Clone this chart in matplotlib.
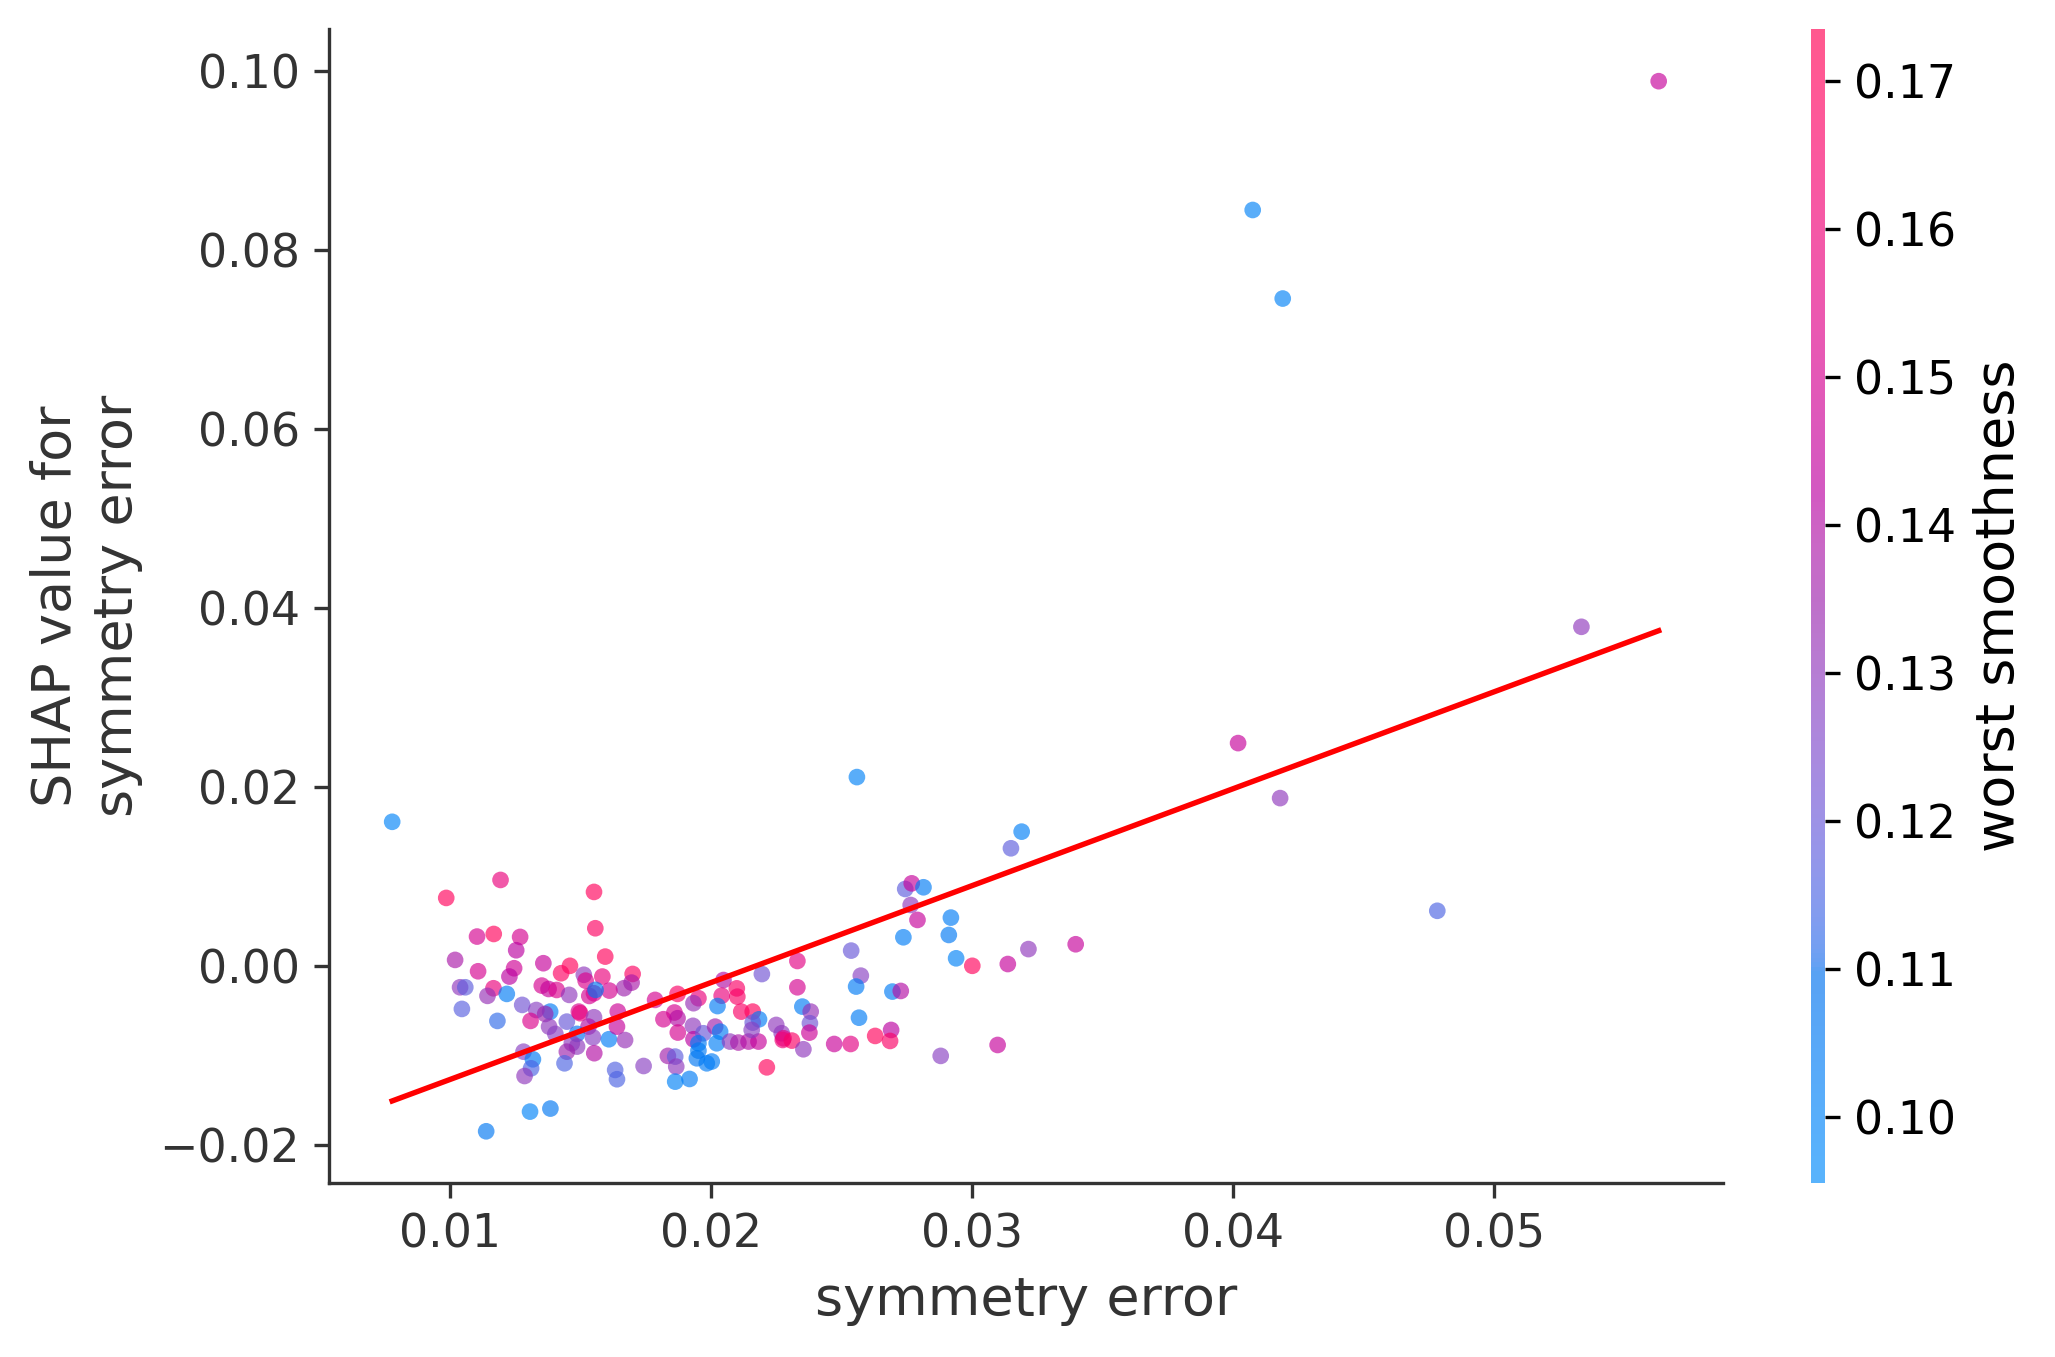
import numpy as np
import matplotlib
matplotlib.use("Agg")
import matplotlib.pyplot as plt
from matplotlib.colors import ListedColormap, Normalize
from matplotlib.cm import ScalarMappable

# symmetry error (x), SHAP value (y), worst smoothness (colour)
sym_error = [
    0.0078, 0.00987, 0.01195, 0.01553, 0.01558, 0.01105, 0.01169, 0.0127, 0.01255, 0.01021,
    0.01596, 0.01109, 0.01247, 0.01229, 0.01359, 0.01427, 0.01461, 0.01514, 0.01521, 0.01585,
    0.01701, 0.01697, 0.01668, 0.01612, 0.0104, 0.0106, 0.01047, 0.01168, 0.01145, 0.01219,
    0.01183, 0.01353, 0.01379, 0.0141, 0.01385, 0.01458, 0.01278, 0.01332, 0.01366, 0.0131,
    0.01381, 0.01405, 0.01449, 0.01495, 0.0150, 0.01553, 0.01535, 0.01559, 0.01553, 0.01532,
    0.01549, 0.01488, 0.01468, 0.01488, 0.01449, 0.0144, 0.01554, 0.0161, 0.01644, 0.01641,
    0.01672, 0.01283, 0.01319, 0.01312, 0.01287, 0.01634, 0.01641, 0.01743, 0.01308, 0.01386,
    0.0114, 0.01787, 0.01873, 0.01953, 0.01934, 0.01819, 0.01861, 0.01873, 0.01874, 0.01932,
    0.01934, 0.01972, 0.01953, 0.01953, 0.01947, 0.01985, 0.01836, 0.01864, 0.01868, 0.01864,
    0.01919,
    0.02049, 0.02100, 0.02102, 0.02042, 0.02026, 0.02117, 0.02161, 0.02185, 0.02161, 0.02251,
    0.02017, 0.02036, 0.02023, 0.02004, 0.02074, 0.02106, 0.02145, 0.02183, 0.02157, 0.02272,
    0.02279, 0.02276, 0.02311, 0.02215, 0.02196, 0.02332, 0.02332, 0.02351, 0.02383, 0.0238,
    0.02378, 0.02355, 0.02473, 0.02536, 0.0263, 0.02691, 0.02687, 0.02538, 0.02575, 0.02557,
    0.02568, 0.02696, 0.02728, 0.02738, 0.02745, 0.0277, 0.02815, 0.02766, 0.02792, 0.0292,
    0.02912, 0.0294, 0.03002, 0.03138, 0.03217, 0.0315, 0.03191, 0.02881, 0.03099, 0.03398,
    0.05631, 0.04076, 0.04191, 0.05335, 0.0402, 0.04181, 0.04783, 0.0256,
]
shap_vals = [
    0.0161, 0.00759, 0.0096, 0.00826, 0.0042, 0.00327, 0.00356, 0.00323, 0.00174, 0.00066,
    0.00103, -0.00061, -0.00027, -0.0012, 0.00029, -0.00083, 0.0, -0.001, -0.00166, -0.0012,
    -0.00091, -0.00188, -0.0025, -0.00277, -0.0024, -0.0024, -0.00482, -0.00251, -0.00336, -0.00314,
    -0.00616, -0.00221, -0.00259, -0.0027, -0.00512, -0.00325, -0.00437, -0.00494, -0.00538, -0.00616,
    -0.0068, -0.00761, -0.00624, -0.00512, -0.0053, -0.00307, -0.00337, -0.00269, -0.00575, -0.0068,
    -0.008, -0.00761, -0.00866, -0.00903, -0.0096, -0.0109, -0.00977, -0.00821, -0.00512, -0.0068,
    -0.0083, -0.0096, -0.01045, -0.01146, -0.01232, -0.01164, -0.01268, -0.0112, -0.0163, -0.01596,
    -0.0185, -0.00381, -0.00314, -0.00362, -0.00418, -0.00597, -0.00522, -0.00586, -0.00746, -0.00671,
    -0.00821, -0.00754, -0.00866, -0.00948, -0.01034, -0.0109, -0.01007, -0.01015, -0.01127, -0.01295,
    -0.01265,
    -0.00159, -0.00252, -0.00345, -0.00334, -0.0045, -0.00512, -0.00512, -0.00598, -0.00635, -0.00661,
    -0.0068, -0.00736, -0.00866, -0.0107, -0.00847, -0.00858, -0.00847, -0.00847, -0.00717, -0.00754,
    -0.0081, -0.00829, -0.00836, -0.01135, -0.00092, 0.00054, -0.0024, -0.00456, -0.00512, -0.00642,
    -0.00747, -0.00933, -0.00874, -0.00874, -0.00784, -0.00717, -0.0084, 0.0017, -0.0011, -0.00232,
    -0.0058, -0.00288, -0.00281, 0.00319, 0.00859, 0.00922, 0.00878, 0.0068, 0.00513, 0.00539,
    0.00345, 0.00084, 0.0, 0.0002, 0.00187, 0.01314, 0.0150, -0.01007, -0.00885, 0.00241,
    0.0989, 0.0845, 0.0746, 0.0379, 0.0249, 0.01875, 0.00615, 0.0211,
]
worst_smooth = [
    0.100, 0.170, 0.158, 0.170, 0.168, 0.150, 0.170, 0.150, 0.142, 0.138,
    0.170, 0.150, 0.148, 0.142, 0.145, 0.168, 0.170, 0.130, 0.152, 0.158,
    0.168, 0.138, 0.135, 0.150, 0.130, 0.118, 0.117, 0.158, 0.132, 0.104,
    0.112, 0.150, 0.145, 0.152, 0.104, 0.130, 0.122, 0.128, 0.135, 0.152,
    0.130, 0.128, 0.120, 0.150, 0.158, 0.152, 0.150, 0.106, 0.130, 0.140,
    0.128, 0.110, 0.130, 0.130, 0.135, 0.115, 0.140, 0.103, 0.147, 0.145,
    0.132, 0.128, 0.105, 0.115, 0.130, 0.116, 0.115, 0.128, 0.100, 0.106,
    0.106, 0.150, 0.166, 0.158, 0.132, 0.150, 0.150, 0.140, 0.150, 0.130,
    0.142, 0.120, 0.104, 0.104, 0.106, 0.104, 0.136, 0.118, 0.130, 0.101,
    0.104,
    0.140, 0.166, 0.166, 0.158, 0.104, 0.166, 0.170, 0.104, 0.120, 0.130,
    0.136, 0.104, 0.102, 0.104, 0.130, 0.138, 0.140, 0.145, 0.128, 0.130,
    0.155, 0.160, 0.166, 0.170, 0.122, 0.155, 0.150, 0.104, 0.132, 0.122,
    0.147, 0.130, 0.146, 0.155, 0.170, 0.142, 0.166, 0.120, 0.128, 0.104,
    0.104, 0.104, 0.140, 0.103, 0.118, 0.145, 0.104, 0.130, 0.145, 0.104,
    0.105, 0.101, 0.170, 0.145, 0.130, 0.118, 0.102, 0.128, 0.145, 0.145,
    0.145, 0.101, 0.101, 0.130, 0.145, 0.130, 0.115, 0.101,
]

x_ticks = [0.01, 0.02, 0.03, 0.04, 0.05]
y_ticks = [-0.02, 0.00, 0.02, 0.04, 0.06, 0.08, 0.10]
cb_ticks = [0.10, 0.11, 0.12, 0.13, 0.14, 0.15, 0.16, 0.17]


def red_blue_rgb(n=256):
    # shap style blue -> red, interpolated in LCH with a darker middle
    t = np.linspace(0, 1, n)
    L = np.where(t < 0.5, 54 + (40 - 54) * t * 2, 40 + (54 - 40) * (t - 0.5) * 2)
    C = 70 + 20 * t
    H = 4.6588 + t * (0.35470565 + 2 * np.pi - 4.6588)
    a = C * np.cos(H)
    b = C * np.sin(H)
    fy = (L + 16) / 116
    fx = fy + a / 500
    fz = fy - b / 200

    def finv(f):
        return np.where(f > 6 / 29, f ** 3, 3 * (6 / 29) ** 2 * (f - 4 / 29))

    xyz = np.vstack([0.95047 * finv(fx), finv(fy), 1.08883 * finv(fz)])
    M = np.array([[3.2406, -1.5372, -0.4986],
                  [-0.9689, 1.8758, 0.0415],
                  [0.0557, -0.2040, 1.0570]])
    lin = np.clip(M @ xyz, 0, 1)
    rgb = np.where(lin > 0.0031308, 1.055 * lin ** (1 / 2.4) - 0.055, 12.92 * lin)
    return np.clip(rgb, 0, 1).T


axis_color = "#333333"
dot_alpha = 0.65
rgb = red_blue_rgb()
cmap = ListedColormap(rgb)
# same colours as the dots look on white, for the colour bar
cmap_bar = ListedColormap(rgb * dot_alpha + (1 - dot_alpha))
norm = Normalize(vmin=0.0955, vmax=0.1735)

fig = plt.figure(figsize=(2055 / 300, 1357 / 300), dpi=300)
ax = fig.add_axes([0.1601, 0.1279, 0.6783, 0.8509])
cax = fig.add_axes([0.8813, 0.1279, 0.0068, 0.8509])

ax.scatter(sym_error, shap_vals, c=worst_smooth, cmap=cmap, norm=norm,
           s=16, alpha=dot_alpha, linewidth=0)

# linear fit drawn over the data range
coef = np.polyfit(sym_error, shap_vals, 1)
xs = np.array([min(sym_error), max(sym_error)])
ax.plot(xs, np.polyval(coef, xs), color="red", lw=1.3)

ax.set_xlim(0.00538, 0.05877)
ax.set_ylim(-0.02433, 0.10476)
ax.set_xticks(x_ticks)
ax.set_yticks(y_ticks)
ax.set_xticklabels(["%.2f" % v for v in x_ticks])
ax.set_yticklabels(["\u22120.02" if v < 0 else "%.2f" % v for v in y_ticks])
ax.spines["right"].set_visible(False)
ax.spines["top"].set_visible(False)
for sp in ["left", "bottom"]:
    ax.spines[sp].set_color(axis_color)
ax.tick_params(labelsize=11, color=axis_color, labelcolor=axis_color)
ax.set_xlabel("symmetry error", fontsize=13, color=axis_color)
ax.set_ylabel("SHAP value for\nsymmetry error", fontsize=13, color=axis_color)

sm = ScalarMappable(norm=norm, cmap=cmap_bar)
cb = fig.colorbar(sm, cax=cax, ticks=cb_ticks)
cb.outline.set_visible(False)
cb.ax.tick_params(labelsize=11)
cb.ax.set_yticklabels(["%.2f" % v for v in cb_ticks])
cb.set_label("worst smoothness", size=13)

fig.savefig("out.png", dpi=300)
